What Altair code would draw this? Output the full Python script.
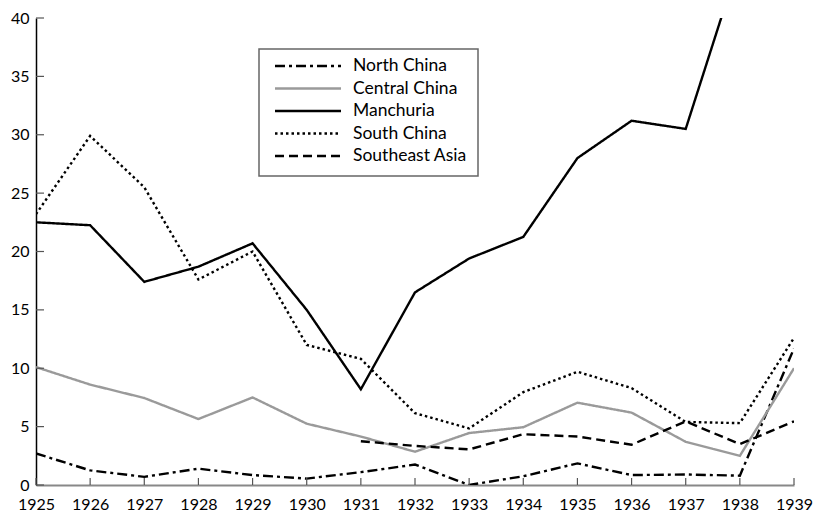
import altair as alt
import pandas as pd

years = list(range(1925, 1940))
series_names = ["North China", "Central China", "Manchuria", "South China", "Southeast Asia"]

north_china = [2.7, 1.25, 0.7, 1.4, 0.85, 0.55, 1.1, 1.75, 0.0, 0.75, 1.85, 0.85, 0.9, 0.8, 11.7]
central_china = [10.1, 8.6, 7.45, 5.65, 7.5, 5.25, 4.15, 2.85, 4.45, 4.95, 7.05, 6.2, 3.7, 2.5, 10.0]
manchuria = [22.5, 22.25, 17.4, 18.7, 20.7, 15.0, 8.2, 16.5, 19.4, 21.25, 28.0, 31.2, 30.5, 45.0, None]
south_china = [23.2, 29.9, 25.5, 17.6, 20.0, 12.0, 10.8, 6.15, 4.85, 7.95, 9.7, 8.3, 5.4, 5.3, 12.6]
southeast_asia = [None, None, None, None, None, None, 3.75, 3.35, 3.05, 4.35, 4.15, 3.45, 5.45, 3.5, 5.45]

y_ticks = [0, 5, 10, 15, 20, 25, 30, 35, 40]

rows = []
for name, vals in zip(series_names, [north_china, central_china, manchuria, south_china, southeast_asia]):
    for yr, v in zip(years, vals):
        if v is not None:
            rows.append({"year": yr, "value": v, "region": name})
df = pd.DataFrame(rows)

PAD_L, PAD_T, PAD_R, PAD_B = 28, 10, 20, 31
W, H = 806 - PAD_L - PAD_R, 508 - PAD_T - PAD_B
FONT = "Lato"
FS = 16

colors = ["#000000", "#9a9a9a", "#000000", "#000000", "#000000"]
dashes = [[10, 4, 3, 4], [1, 0], [1, 0], [2.5, 3], [9, 5]]

color_enc = alt.Color("region:N", scale=alt.Scale(domain=series_names, range=colors), legend=None)
dash_enc = alt.StrokeDash("region:N", scale=alt.Scale(domain=series_names, range=dashes), legend=None)

x_scale = alt.Scale(domain=[1925, 1939], nice=False, zero=False)
y_scale = alt.Scale(domain=[0, 40], nice=False)

lines = alt.Chart(df).mark_line(strokeWidth=2.4, clip=True, strokeCap="butt").encode(
    x=alt.X("year:Q", scale=x_scale,
            axis=alt.Axis(values=years, format="d", title=None, ticks=False,
                          domainColor="#888888", domainWidth=1.8,
                          labelFontSize=FS, labelColor="#000000", labelFont=FONT,
                          labelPadding=11, grid=False, labelFlush=False)),
    y=alt.Y("value:Q", scale=y_scale,
            axis=alt.Axis(values=y_ticks, title=None, ticks=False,
                          domainColor="#000000", domainWidth=1.5,
                          labelFontSize=FS, labelColor="#000000", labelFont=FONT,
                          labelPadding=7, grid=False)),
    color=color_enc,
    strokeDash=dash_enc,
    detail="region:N",
)

xt = pd.DataFrame({"year": years})
x_ticks = alt.Chart(xt).mark_rule(color="#555555", strokeWidth=1.2).encode(
    x=alt.X("year:Q", scale=x_scale),
    y=alt.value(H),
    y2=alt.value(H - 7),
)

yt = pd.DataFrame({"value": y_ticks})
y_tick_marks = alt.Chart(yt).mark_rule(color="#555555", strokeWidth=1.2).encode(
    y=alt.Y("value:Q", scale=y_scale),
    x=alt.value(0),
    x2=alt.value(8),
)

# manual legend (pixel layout, box at page x=259, y=49)
LX0, LY0 = 259 - 8 - PAD_L, 49 - 8 - PAD_T
ROW = 22.5
leg = pd.DataFrame({"region": series_names,
                    "ly": [LY0 + 17 + i * ROW for i in range(len(series_names))]})

legend_box = alt.Chart(pd.DataFrame({"k": [0]})).mark_rect(
    fill="#ffffff", stroke="#666666", strokeWidth=1.5
).encode(
    x=alt.value(LX0), x2=alt.value(LX0 + 219),
    y=alt.value(LY0), y2=alt.value(LY0 + 127),
)

legend_lines = alt.Chart(leg).mark_rule(strokeWidth=2.4, strokeCap="butt").encode(
    x=alt.value(LX0 + 16), x2=alt.value(LX0 + 82),
    y=alt.Y("ly:Q", scale=None, axis=None),
    color=color_enc,
    strokeDash=dash_enc,
)

legend_text = alt.Chart(leg).mark_text(
    align="left", baseline="middle", font=FONT, fontSize=17.5, color="#000000"
).encode(
    x=alt.value(LX0 + 94),
    y=alt.Y("ly:Q", scale=None, axis=None),
    text="region:N",
)

chart = alt.layer(lines, x_ticks, y_tick_marks, legend_box, legend_lines, legend_text).properties(
    width=W, height=H,
    autosize=alt.AutoSizeParams(type="none"),
    padding={"left": PAD_L, "top": PAD_T, "right": PAD_R, "bottom": PAD_B},
).configure_view(stroke=None)

chart.save("out.html", embed_options={"renderer": "svg", "actions": False})
